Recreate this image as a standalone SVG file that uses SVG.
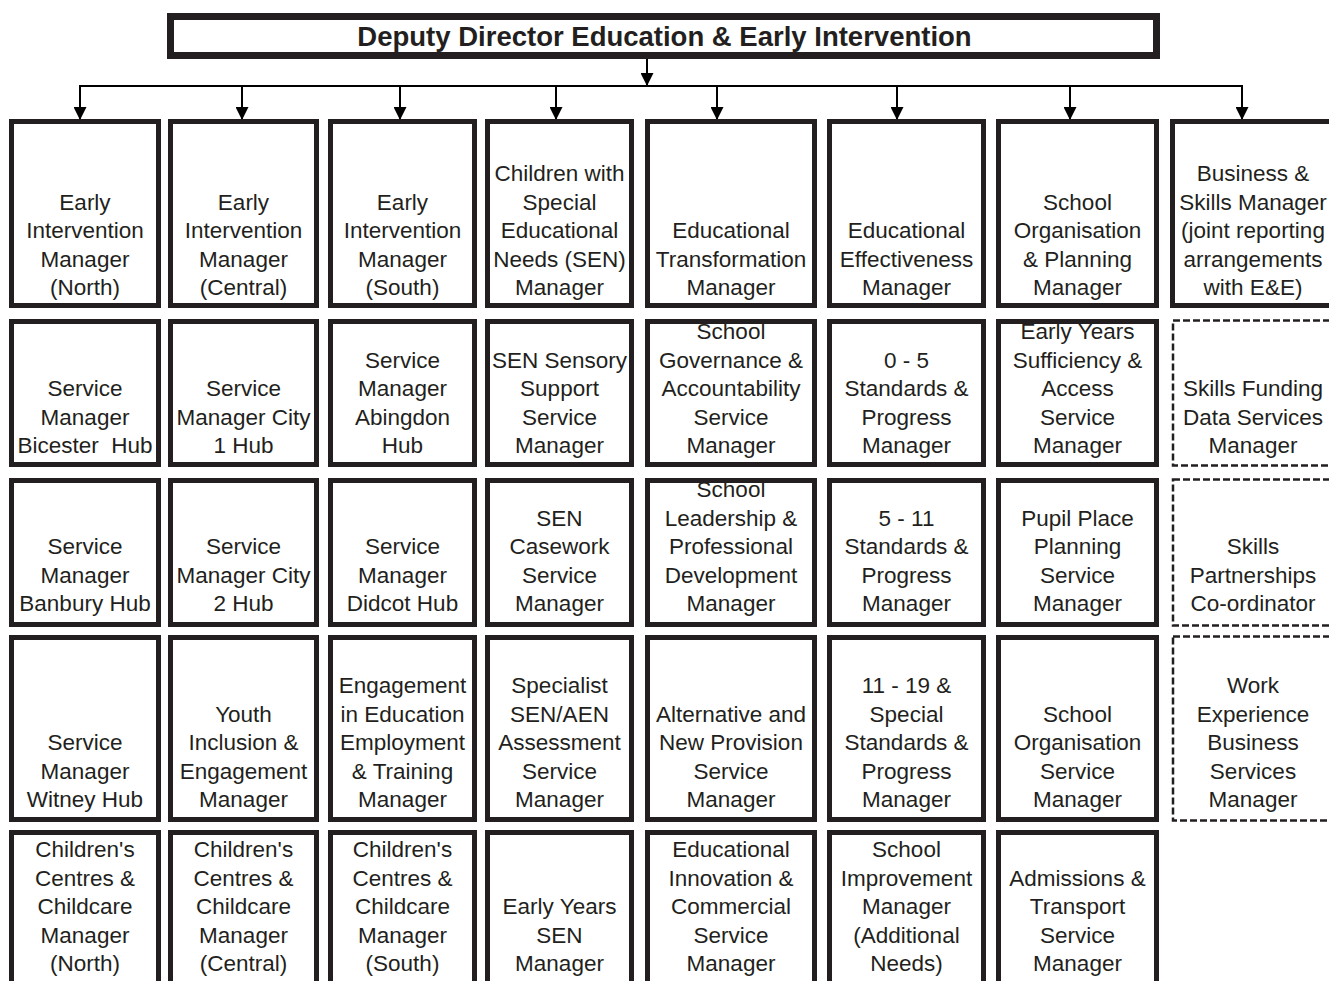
<svg xmlns="http://www.w3.org/2000/svg" width="1329" height="981" viewBox="0 0 1329 981">
<defs>
<marker id="ah" markerUnits="userSpaceOnUse" markerWidth="14" markerHeight="13" refX="13" refY="6.5" orient="auto">
<path d="M0,0 L13,6.5 L0,13 z" fill="#000"/>
</marker>
<style>
.b{fill:#fff;stroke:#231f20;stroke-width:5}
.d{fill:#fff;stroke:#231f20;stroke-width:2.5;stroke-dasharray:7 3}
.t{font-family:"Liberation Sans",Arial,sans-serif;font-size:22.5px;fill:#231f20;text-anchor:middle}
.h{font-family:"Liberation Sans",Arial,sans-serif;font-size:27.5px;font-weight:bold;fill:#231f20;text-anchor:middle}
.c{stroke:#000;stroke-width:2;fill:none}
</style>
</defs>
<rect width="1329" height="981" fill="#fff"/>

<g id="connectors">
<line class="c" x1="647" y1="59" x2="647" y2="86" marker-end="url(#ah)"/>
<line class="c" x1="79" y1="86" x2="1243" y2="86"/>
<line class="c" x1="80" y1="86" x2="80" y2="120" marker-end="url(#ah)"/>
<line class="c" x1="242" y1="86" x2="242" y2="120" marker-end="url(#ah)"/>
<line class="c" x1="400" y1="86" x2="400" y2="120" marker-end="url(#ah)"/>
<line class="c" x1="556" y1="86" x2="556" y2="120" marker-end="url(#ah)"/>
<line class="c" x1="717" y1="86" x2="717" y2="120" marker-end="url(#ah)"/>
<line class="c" x1="897" y1="86" x2="897" y2="120" marker-end="url(#ah)"/>
<line class="c" x1="1070" y1="86" x2="1070" y2="120" marker-end="url(#ah)"/>
<line class="c" x1="1242" y1="86" x2="1242" y2="120" marker-end="url(#ah)"/>
</g>

<g id="director">
<rect x="170.5" y="16.5" width="986" height="39" fill="#fff" stroke="#231f20" stroke-width="7"/>
<text class="h" x="664.5" y="46">Deputy Director Education &amp; Early Intervention</text>
</g>

<!-- Row 1 -->
<g id="r1c1"><rect class="b" x="11.5" y="121.5" width="147" height="184"/>
<text class="t"><tspan x="85" y="209.5">Early</tspan><tspan x="85" y="238">Intervention</tspan><tspan x="85" y="266.5">Manager</tspan><tspan x="85" y="295">(North)</tspan></text></g>
<g id="r1c2"><rect class="b" x="170.5" y="121.5" width="146" height="184"/>
<text class="t"><tspan x="243.5" y="209.5">Early</tspan><tspan x="243.5" y="238">Intervention</tspan><tspan x="243.5" y="266.5">Manager</tspan><tspan x="243.5" y="295">(Central)</tspan></text></g>
<g id="r1c3"><rect class="b" x="330.5" y="121.5" width="144" height="184"/>
<text class="t"><tspan x="402.5" y="209.5">Early</tspan><tspan x="402.5" y="238">Intervention</tspan><tspan x="402.5" y="266.5">Manager</tspan><tspan x="402.5" y="295">(South)</tspan></text></g>
<g id="r1c4"><rect class="b" x="487.5" y="121.5" width="144" height="184"/>
<text class="t"><tspan x="559.5" y="181">Children with</tspan><tspan x="559.5" y="209.5">Special</tspan><tspan x="559.5" y="238">Educational</tspan><tspan x="559.5" y="266.5">Needs (SEN)</tspan><tspan x="559.5" y="295">Manager</tspan></text></g>
<g id="r1c5"><rect class="b" x="647.5" y="121.5" width="167" height="184"/>
<text class="t"><tspan x="731" y="238">Educational</tspan><tspan x="731" y="266.5">Transformation</tspan><tspan x="731" y="295">Manager</tspan></text></g>
<g id="r1c6"><rect class="b" x="829.5" y="121.5" width="154" height="184"/>
<text class="t"><tspan x="906.5" y="238">Educational</tspan><tspan x="906.5" y="266.5">Effectiveness</tspan><tspan x="906.5" y="295">Manager</tspan></text></g>
<g id="r1c7"><rect class="b" x="998.5" y="121.5" width="158" height="184"/>
<text class="t"><tspan x="1077.5" y="209.5">School</tspan><tspan x="1077.5" y="238">Organisation</tspan><tspan x="1077.5" y="266.5">&amp; Planning</tspan><tspan x="1077.5" y="295">Manager</tspan></text></g>
<g id="r1c8"><rect class="b" x="1172.5" y="121.5" width="161" height="184"/>
<text class="t"><tspan x="1253" y="181">Business &amp;</tspan><tspan x="1253" y="209.5">Skills Manager</tspan><tspan x="1253" y="238">(joint reporting</tspan><tspan x="1253" y="266.5">arrangements</tspan><tspan x="1253" y="295">with E&amp;E)</tspan></text></g>

<!-- Row 2 -->
<g id="r2c1"><rect class="b" x="11.5" y="321.5" width="147" height="143"/>
<text class="t" xml:space="preserve"><tspan x="85" y="396">Service</tspan><tspan x="85" y="424.5">Manager</tspan><tspan x="85" y="453">Bicester  Hub</tspan></text></g>
<g id="r2c2"><rect class="b" x="170.5" y="321.5" width="146" height="143"/>
<text class="t"><tspan x="243.5" y="396">Service</tspan><tspan x="243.5" y="424.5">Manager City</tspan><tspan x="243.5" y="453">1 Hub</tspan></text></g>
<g id="r2c3"><rect class="b" x="330.5" y="321.5" width="144" height="143"/>
<text class="t"><tspan x="402.5" y="367.5">Service</tspan><tspan x="402.5" y="396">Manager</tspan><tspan x="402.5" y="424.5">Abingdon</tspan><tspan x="402.5" y="453">Hub</tspan></text></g>
<g id="r2c4"><rect class="b" x="487.5" y="321.5" width="144" height="143"/>
<text class="t"><tspan x="559.5" y="367.5">SEN Sensory</tspan><tspan x="559.5" y="396">Support</tspan><tspan x="559.5" y="424.5">Service</tspan><tspan x="559.5" y="453">Manager</tspan></text></g>
<g id="r2c5"><rect class="b" x="647.5" y="321.5" width="167" height="143"/>
<text class="t"><tspan x="731" y="339">School</tspan><tspan x="731" y="367.5">Governance &amp;</tspan><tspan x="731" y="396">Accountability</tspan><tspan x="731" y="424.5">Service</tspan><tspan x="731" y="453">Manager</tspan></text></g>
<g id="r2c6"><rect class="b" x="829.5" y="321.5" width="154" height="143"/>
<text class="t"><tspan x="906.5" y="367.5">0 - 5</tspan><tspan x="906.5" y="396">Standards &amp;</tspan><tspan x="906.5" y="424.5">Progress</tspan><tspan x="906.5" y="453">Manager</tspan></text></g>
<g id="r2c7"><rect class="b" x="998.5" y="321.5" width="158" height="143"/>
<text class="t"><tspan x="1077.5" y="339">Early Years</tspan><tspan x="1077.5" y="367.5">Sufficiency &amp;</tspan><tspan x="1077.5" y="396">Access</tspan><tspan x="1077.5" y="424.5">Service</tspan><tspan x="1077.5" y="453">Manager</tspan></text></g>
<g id="r2c8"><rect class="d" x="1173" y="320.5" width="170" height="145"/>
<text class="t"><tspan x="1253" y="396">Skills Funding</tspan><tspan x="1253" y="424.5">Data Services</tspan><tspan x="1253" y="453">Manager</tspan></text></g>

<!-- Row 3 -->
<g id="r3c1"><rect class="b" x="11.5" y="480.5" width="147" height="144"/>
<text class="t"><tspan x="85" y="554">Service</tspan><tspan x="85" y="582.5">Manager</tspan><tspan x="85" y="611">Banbury Hub</tspan></text></g>
<g id="r3c2"><rect class="b" x="170.5" y="480.5" width="146" height="144"/>
<text class="t"><tspan x="243.5" y="554">Service</tspan><tspan x="243.5" y="582.5">Manager City</tspan><tspan x="243.5" y="611">2 Hub</tspan></text></g>
<g id="r3c3"><rect class="b" x="330.5" y="480.5" width="144" height="144"/>
<text class="t"><tspan x="402.5" y="554">Service</tspan><tspan x="402.5" y="582.5">Manager</tspan><tspan x="402.5" y="611">Didcot Hub</tspan></text></g>
<g id="r3c4"><rect class="b" x="487.5" y="480.5" width="144" height="144"/>
<text class="t"><tspan x="559.5" y="525.5">SEN</tspan><tspan x="559.5" y="554">Casework</tspan><tspan x="559.5" y="582.5">Service</tspan><tspan x="559.5" y="611">Manager</tspan></text></g>
<g id="r3c5"><rect class="b" x="647.5" y="480.5" width="167" height="144"/>
<text class="t"><tspan x="731" y="497">School</tspan><tspan x="731" y="525.5">Leadership &amp;</tspan><tspan x="731" y="554">Professional</tspan><tspan x="731" y="582.5">Development</tspan><tspan x="731" y="611">Manager</tspan></text></g>
<g id="r3c6"><rect class="b" x="829.5" y="480.5" width="154" height="144"/>
<text class="t"><tspan x="906.5" y="525.5">5 - 11</tspan><tspan x="906.5" y="554">Standards &amp;</tspan><tspan x="906.5" y="582.5">Progress</tspan><tspan x="906.5" y="611">Manager</tspan></text></g>
<g id="r3c7"><rect class="b" x="998.5" y="480.5" width="158" height="144"/>
<text class="t"><tspan x="1077.5" y="525.5">Pupil Place</tspan><tspan x="1077.5" y="554">Planning</tspan><tspan x="1077.5" y="582.5">Service</tspan><tspan x="1077.5" y="611">Manager</tspan></text></g>
<g id="r3c8"><rect class="d" x="1173" y="479.5" width="170" height="146"/>
<text class="t"><tspan x="1253" y="554">Skills</tspan><tspan x="1253" y="582.5">Partnerships</tspan><tspan x="1253" y="611">Co-ordinator</tspan></text></g>

<!-- Row 4 -->
<g id="r4c1"><rect class="b" x="11.5" y="637.5" width="147" height="182"/>
<text class="t"><tspan x="85" y="750">Service</tspan><tspan x="85" y="778.5">Manager</tspan><tspan x="85" y="807">Witney Hub</tspan></text></g>
<g id="r4c2"><rect class="b" x="170.5" y="637.5" width="146" height="182"/>
<text class="t"><tspan x="243.5" y="721.5">Youth</tspan><tspan x="243.5" y="750">Inclusion &amp;</tspan><tspan x="243.5" y="778.5">Engagement</tspan><tspan x="243.5" y="807">Manager</tspan></text></g>
<g id="r4c3"><rect class="b" x="330.5" y="637.5" width="144" height="182"/>
<text class="t"><tspan x="402.5" y="693">Engagement</tspan><tspan x="402.5" y="721.5">in Education</tspan><tspan x="402.5" y="750">Employment</tspan><tspan x="402.5" y="778.5">&amp; Training</tspan><tspan x="402.5" y="807">Manager</tspan></text></g>
<g id="r4c4"><rect class="b" x="487.5" y="637.5" width="144" height="182"/>
<text class="t"><tspan x="559.5" y="693">Specialist</tspan><tspan x="559.5" y="721.5">SEN/AEN</tspan><tspan x="559.5" y="750">Assessment</tspan><tspan x="559.5" y="778.5">Service</tspan><tspan x="559.5" y="807">Manager</tspan></text></g>
<g id="r4c5"><rect class="b" x="647.5" y="637.5" width="167" height="182"/>
<text class="t"><tspan x="731" y="721.5">Alternative and</tspan><tspan x="731" y="750">New Provision</tspan><tspan x="731" y="778.5">Service</tspan><tspan x="731" y="807">Manager</tspan></text></g>
<g id="r4c6"><rect class="b" x="829.5" y="637.5" width="154" height="182"/>
<text class="t"><tspan x="906.5" y="693">11 - 19 &amp;</tspan><tspan x="906.5" y="721.5">Special</tspan><tspan x="906.5" y="750">Standards &amp;</tspan><tspan x="906.5" y="778.5">Progress</tspan><tspan x="906.5" y="807">Manager</tspan></text></g>
<g id="r4c7"><rect class="b" x="998.5" y="637.5" width="158" height="182"/>
<text class="t"><tspan x="1077.5" y="721.5">School</tspan><tspan x="1077.5" y="750">Organisation</tspan><tspan x="1077.5" y="778.5">Service</tspan><tspan x="1077.5" y="807">Manager</tspan></text></g>
<g id="r4c8"><rect class="d" x="1173" y="636.5" width="170" height="184"/>
<text class="t"><tspan x="1253" y="693">Work</tspan><tspan x="1253" y="721.5">Experience</tspan><tspan x="1253" y="750">Business</tspan><tspan x="1253" y="778.5">Services</tspan><tspan x="1253" y="807">Manager</tspan></text></g>

<!-- Row 5 -->
<g id="r5c1"><rect class="b" x="11.5" y="832.5" width="147" height="170"/>
<text class="t"><tspan x="85" y="857">Children's</tspan><tspan x="85" y="885.5">Centres &amp;</tspan><tspan x="85" y="914">Childcare</tspan><tspan x="85" y="942.5">Manager</tspan><tspan x="85" y="971">(North)</tspan></text></g>
<g id="r5c2"><rect class="b" x="170.5" y="832.5" width="146" height="170"/>
<text class="t"><tspan x="243.5" y="857">Children's</tspan><tspan x="243.5" y="885.5">Centres &amp;</tspan><tspan x="243.5" y="914">Childcare</tspan><tspan x="243.5" y="942.5">Manager</tspan><tspan x="243.5" y="971">(Central)</tspan></text></g>
<g id="r5c3"><rect class="b" x="330.5" y="832.5" width="144" height="170"/>
<text class="t"><tspan x="402.5" y="857">Children's</tspan><tspan x="402.5" y="885.5">Centres &amp;</tspan><tspan x="402.5" y="914">Childcare</tspan><tspan x="402.5" y="942.5">Manager</tspan><tspan x="402.5" y="971">(South)</tspan></text></g>
<g id="r5c4"><rect class="b" x="487.5" y="832.5" width="144" height="170"/>
<text class="t"><tspan x="559.5" y="914">Early Years</tspan><tspan x="559.5" y="942.5">SEN</tspan><tspan x="559.5" y="971">Manager</tspan></text></g>
<g id="r5c5"><rect class="b" x="647.5" y="832.5" width="167" height="170"/>
<text class="t"><tspan x="731" y="857">Educational</tspan><tspan x="731" y="885.5">Innovation &amp;</tspan><tspan x="731" y="914">Commercial</tspan><tspan x="731" y="942.5">Service</tspan><tspan x="731" y="971">Manager</tspan></text></g>
<g id="r5c6"><rect class="b" x="829.5" y="832.5" width="154" height="170"/>
<text class="t"><tspan x="906.5" y="857">School</tspan><tspan x="906.5" y="885.5">Improvement</tspan><tspan x="906.5" y="914">Manager</tspan><tspan x="906.5" y="942.5">(Additional</tspan><tspan x="906.5" y="971">Needs)</tspan></text></g>
<g id="r5c7"><rect class="b" x="998.5" y="832.5" width="158" height="170"/>
<text class="t"><tspan x="1077.5" y="885.5">Admissions &amp;</tspan><tspan x="1077.5" y="914">Transport</tspan><tspan x="1077.5" y="942.5">Service</tspan><tspan x="1077.5" y="971">Manager</tspan></text></g>
</svg>
